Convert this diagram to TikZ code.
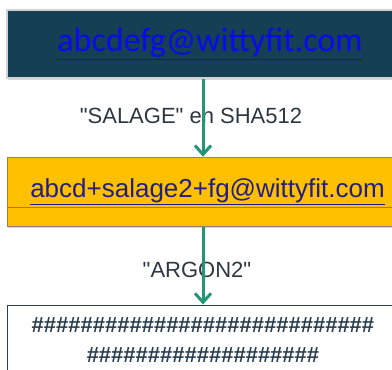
\documentclass[tikz,border=0pt]{standalone}
\usepackage{fontspec}
\setmainfont{Liberation Sans}
\newfontfamily\linkfont{Carlito}
\usetikzlibrary{positioning}
\usetikzlibrary{calc}
\usetikzlibrary{arrows.meta}
\usetikzlibrary{shadows}

\definecolor{deepTeal}{RGB}{20,63,84}
\definecolor{linkBlue}{RGB}{10,10,235}
\definecolor{saltYellow}{RGB}{255,192,0}
\definecolor{saltLine}{RGB}{228,96,40}
\definecolor{navyText}{RGB}{35,30,135}
\definecolor{arrowGreen}{RGB}{35,150,120}
\definecolor{labelGray}{RGB}{45,55,65}
\definecolor{hashGray}{RGB}{40,62,78}

\tikzset{
	stage/.style={minimum width=392pt, inner sep=0pt},
	flow/.style={draw=arrowGreen, line width=3pt, -{Straight Barb[length=9pt,width=16pt]}},
	stepLabel/.style={font=\fontsize{22}{26}\selectfont, text=labelGray}
}

\begin{document}
\begin{tikzpicture}[x=1pt,y=1pt]
\useasboundingbox (0,0) rectangle (392,-370);
\clip (0,0) rectangle (392,-370);

\node[
	stage,
	draw=gray!35,
	line width=1.5pt,
	fill=deepTeal,
	minimum height=68pt,
	drop shadow={shadow xshift=1pt, shadow yshift=-1.5pt, opacity=0.3},
	font=\linkfont\fontsize{34}{40}\selectfont,
	text=linkBlue
] (email) at (203,-44) {\hspace*{14pt}\underline{abcdefg@wittyfit.com}};

\node[
	stage,
	draw=gray!70!brown,
	line width=0.8pt,
	fill=saltYellow,
	minimum height=69pt,
	drop shadow={shadow xshift=1pt, shadow yshift=-1.5pt, opacity=0.3},
	font=\fontsize{26}{30}\selectfont,
	text=navyText,
	below=78pt of email
] (salted) {\hspace*{9pt}\underline{abcd+salage2+fg@wittyfit.com}};

\draw[saltLine, line width=1pt] ($(salted.west)+(0,-15.5)$) -- ($(salted.east)+(0,-15.5)$);

\node[
	stage,
	draw=hashGray,
	line width=1pt,
	fill=white,
	minimum height=70pt,
	align=center,
	font=\bfseries\fontsize{22}{30}\selectfont,
	text=hashGray,
	below=78pt of salted
] (hashed) {\#\#\#\#\#\#\#\#\#\#\#\#\#\#\#\#\#\#\#\#\#\#\#\#\#\#\#\#\\
	\#\#\#\#\#\#\#\#\#\#\#\#\#\#\#\#\#\#\#};

% ---

\node[stepLabel, xshift=-12pt, yshift=1.5pt] (saltLabel)
	at ($(email.south)!0.5!(salted.north)$) {\textquotedbl SALAGE\textquotedbl{} en SHA512};

\node[stepLabel, xshift=-6pt, yshift=-4pt] (argonLabel)
	at ($(salted.south)!0.5!(hashed.north)$) {\textquotedbl ARGON2\textquotedbl};

% ---

\draw[flow] (email) -- (salted);
\draw[flow] (salted) -- (hashed);

\end{tikzpicture}
\end{document}
